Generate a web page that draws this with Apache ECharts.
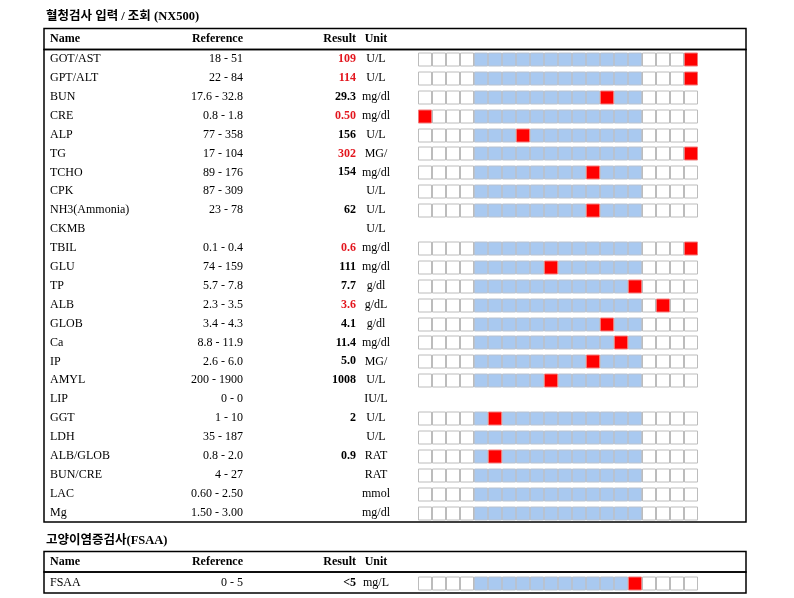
<!doctype html>
<html lang="ko">
<head>
<meta charset="UTF-8">
<title>혈청검사 입력 / 조회</title>
<script src="https://cdn.jsdelivr.net/npm/echarts@6/dist/echarts.min.js"></script>
</head>
<body style="margin:0">
<div id="myChart" style="width:794px;height:598px"></div>
<script>
// serum panel
var names = ['GOT/AST', 'GPT/ALT', 'BUN', 'CRE', 'ALP', 'TG', 'TCHO', 'CPK', 'NH3(Ammonia)', 'CKMB',
    'TBIL', 'GLU', 'TP', 'ALB', 'GLOB', 'Ca', 'IP', 'AMYL', 'LIP', 'GGT', 'LDH', 'ALB/GLOB',
    'BUN/CRE', 'LAC', 'Mg'];
var refs = ['18 - 51', '22 - 84', '17.6 - 32.8', '0.8 - 1.8', '77 - 358', '17 - 104', '89 - 176',
    '87 - 309', '23 - 78', '', '0.1 - 0.4', '74 - 159', '5.7 - 7.8', '2.3 - 3.5', '3.4 - 4.3',
    '8.8 - 11.9', '2.6 - 6.0', '200 - 1900', '0 - 0', '1 - 10', '35 - 187', '0.8 - 2.0', '4 - 27',
    '0.60 - 2.50', '1.50 - 3.00'];
var results = ['109', '114', '29.3', '0.50', '156', '302', '154', '', '62', '', '0.6', '111', '7.7',
    '3.6', '4.1', '11.4', '5.0', '1008', '', '2', '', '0.9', '', '', ''];
var units = ['U/L', 'U/L', 'mg/dl', 'mg/dl', 'U/L', 'MG/', 'mg/dl', 'U/L', 'U/L', 'U/L', 'mg/dl',
    'mg/dl', 'g/dl', 'g/dL', 'g/dl', 'mg/dl', 'MG/', 'U/L', 'IU/L', 'U/L', 'U/L', 'RAT', 'RAT',
    'mmol', 'mg/dl'];
// cell index of the red marker (null = none), and whether the row has a gauge
var markers = [19, 19, 13, 0, 7, 19, 12, null, 12, null, 19, 9, 15, 17, 13, 14, 12, 9, null, 5,
    null, 5, null, null, null];
var hasBar = [true, true, true, true, true, true, true, true, true, false, true, true, true, true,
    true, true, true, true, false, true, true, true, true, true, true];

// inflammation panel
var fsaaNames = ['FSAA'];
var fsaaRefs = ['0 - 5'];
var fsaaResults = ['<5'];
var fsaaUnits = ['mg/L'];
var fsaaMarkers = [15];
var fsaaHasBar = [true];

var headers = ['Name', 'Reference', 'Result', 'Unit'];
var cellCount = 20;
var normalFrom = 4, normalTo = 15;

var serif = "'Liberation Serif', 'Times New Roman', serif";
var boxLeft = 44, boxWidth = 702, cellLeft = 418, cellWidth = 14;

function isOut(m) {
    return m !== null && (m < normalFrom || m > normalTo);
}

function buildCells(mk, bars) {
    var out = [];
    mk.forEach(function (m, row) {
        if (!bars[row]) return;
        for (var c = 0; c < cellCount; c++) {
            var kind = c === m ? 2 : (c >= normalFrom && c <= normalTo ? 1 : 0);
            out.push([c, row, kind]);
        }
    });
    return out;
}

function renderCell(params, api) {
    var p = api.coord([api.value(0), api.value(1)]);
    var size = api.size([1, 1]);
    var kind = api.value(2);
    var fills = ['#ffffff', '#a9c9f0', '#ff0000'];
    var strokes = ['#bcbcbc', '#b8c2d0', '#f07a7a'];
    return {
        type: 'rect',
        shape: {x: Math.round(p[0]) + 0.5, y: Math.round(p[1]) - 6, width: size[0] - 1, height: 13},
        style: {fill: fills[kind], stroke: strokes[kind], lineWidth: 1}
    };
}

// column layout: x of the column anchor, alignment
var columns = [
    {x: 50, align: 'left'},
    {x: 243, align: 'right'},
    {x: 356, align: 'right'},
    {x: 376, align: 'center'}
];

function columnAxes(gridIndex, texts, mk, gap) {
    return columns.map(function (col, ci) {
        var isResult = ci === 2;
        return {
            gridIndex: gridIndex,
            type: 'category',
            inverse: true,
            position: 'left',
            offset: boxLeft - col.x,
            data: texts[ci].map(function (t, i) { return String(i); }),
            name: headers[ci],
            nameLocation: 'start',
            nameGap: gap,
            nameTextStyle: {
                fontFamily: serif, fontSize: 12, fontWeight: 'bold', color: '#000',
                align: col.align, verticalAlign: 'middle'
            },
            axisLine: {show: false, onZero: false},
            axisTick: {show: false},
            splitLine: {show: false},
            axisLabel: {
                interval: 0,
                margin: 0,
                align: col.align,
                fontFamily: serif,
                fontSize: 12,
                fontWeight: isResult ? 'bold' : 'normal',
                color: function (v, i) {
                    return isResult && isOut(mk[i]) ? '#e3161e' : '#000';
                },
                formatter: function (v, i) {
                    return texts[ci][i];
                }
            }
        };
    });
}

var myChart = echarts.init(document.getElementById('myChart'));

var cellAxis = function (gridIndex) {
    return {
        gridIndex: gridIndex,
        type: 'value',
        min: (boxLeft - cellLeft) / cellWidth,
        max: (boxLeft + boxWidth - cellLeft) / cellWidth,
        show: false
    };
};

var titleStyle = {fontFamily: "'Liberation Serif', 'Noto Sans CJK KR'", fontSize: 12.5, fontWeight: 'bold', color: '#000'};

var option = {
    backgroundColor: '#fff',
    animation: false,
    title: [
        {text: '혈청검사 입력 / 조회 (NX500)', left: 46, top: 11, padding: 0, textStyle: titleStyle},
        {text: '고양이염증검사(FSAA)', left: 46, top: 535, padding: 0, textStyle: titleStyle}
    ],
    grid: [
        {left: boxLeft, top: 49.5, width: boxWidth, height: 472.5, show: true, borderColor: '#000', borderWidth: 1.5},
        {left: boxLeft, top: 572, width: boxWidth, height: 21, show: true, borderColor: '#000', borderWidth: 1.5}
    ],
    graphic: [
        {type: 'rect', shape: {x: boxLeft, y: 28.5, width: boxWidth, height: 21}, style: {fill: 'none', stroke: '#000', lineWidth: 1.5}},
        {type: 'rect', shape: {x: boxLeft, y: 551.5, width: boxWidth, height: 20.5}, style: {fill: 'none', stroke: '#000', lineWidth: 1.5}}
    ],
    xAxis: [cellAxis(0), cellAxis(1)],
    yAxis: columnAxes(0, [names, refs, results, units], markers, 10.5)
        .concat(columnAxes(1, [fsaaNames, fsaaRefs, fsaaResults, fsaaUnits], fsaaMarkers, 10.5)),
    series: [
        {
            type: 'custom',
            xAxisIndex: 0,
            yAxisIndex: 0,
            renderItem: renderCell,
            data: buildCells(markers, hasBar)
        },
        {
            type: 'custom',
            xAxisIndex: 1,
            yAxisIndex: 4,
            renderItem: renderCell,
            data: buildCells(fsaaMarkers, fsaaHasBar)
        }
    ]
};

myChart.setOption(option);
</script>
</body>
</html>
